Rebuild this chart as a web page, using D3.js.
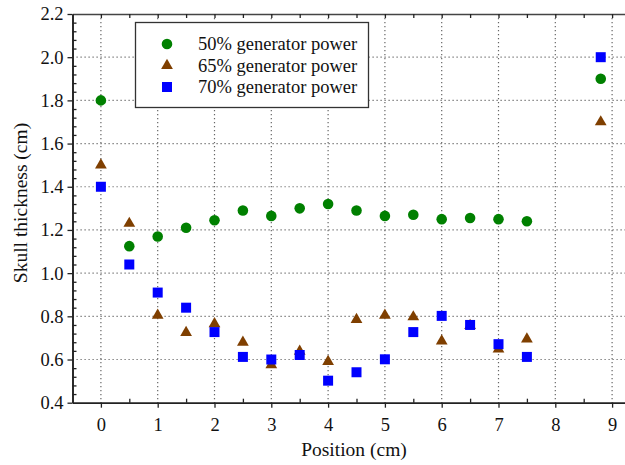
<!DOCTYPE html>
<html>
<head>
<meta charset="utf-8">
<script src="https://cdn.jsdelivr.net/npm/d3@7"></script>
<style>
  body { margin: 0; background: #fff; }
  svg { display: block; }
  svg text { font-family: "Liberation Serif", "DejaVu Serif", serif; }
</style>
</head>
<body>
<svg id="chart" width="625" height="465"></svg>
<script>
// positions along the skull (cm)
var positions = [0, 0.5, 1, 1.5, 2, 2.5, 3, 3.5, 4, 4.5, 5, 5.5, 6, 6.5, 7, 7.5, 8.8];

var power50 = [1.80, 1.125, 1.17, 1.21, 1.245, 1.29, 1.265, 1.30, 1.32, 1.29, 1.265, 1.27, 1.25, 1.255, 1.25, 1.24, 1.90];
var power65 = [1.50, 1.23, 0.805, 0.725, 0.765, 0.68, 0.575, 0.638, 0.59, 0.785, 0.805, 0.797, 0.685, 0.757, 0.648, 0.695, 1.70];
var power70 = [1.40, 1.04, 0.91, 0.84, 0.727, 0.612, 0.60, 0.621, 0.502, 0.541, 0.601, 0.727, 0.802, 0.76, 0.671, 0.612, 2.00];

var seriesNames = ["50% generator power", "65% generator power", "70% generator power"];

var xTicks = [0, 1, 2, 3, 4, 5, 6, 7, 8, 9];
var xMinor = [0.5, 1.5, 2.5, 3.5, 4.5, 5.5, 6.5, 7.5, 8.5];
var yTicks = [0.4, 0.6, 0.8, 1.0, 1.2, 1.4, 1.6, 1.8, 2.0, 2.2];
var yMinor = d3.range(0, 46).map(function(i) { return 0.4 + i * 0.04; })
    .filter(function(v) { return Math.abs(v * 5 - Math.round(v * 5)) > 1e-6; });

var svg = d3.select("#chart");

var plotLeft = 72.5, plotRight = 640.5, plotTop = 14, plotBottom = 402.7;
var x = d3.scaleLinear().domain([-0.5, 9.5]).range([plotLeft, plotRight]);
var y = d3.scaleLinear().domain([0.4, 2.2]).range([plotBottom, plotTop]);

// dotted grid
var grid = svg.append("g").attr("class", "grid");
grid.selectAll("line.gx")
    .data(xTicks)
    .enter().append("line")
    .attr("class", "gx")
    .attr("x1", function(d) { return x(d); })
    .attr("x2", function(d) { return x(d); })
    .attr("y1", plotTop)
    .attr("y2", plotBottom)
    .attr("stroke", "#666")
    .attr("stroke-width", 1.2)
    .attr("stroke-dasharray", "1.2,2.8");
grid.selectAll("line.gy")
    .data(yTicks.slice(1, -1))
    .enter().append("line")
    .attr("class", "gy")
    .attr("x1", plotLeft)
    .attr("x2", plotRight)
    .attr("y1", function(d) { return y(d); })
    .attr("y2", function(d) { return y(d); })
    .attr("stroke", "#666")
    .attr("stroke-width", 1.2)
    .attr("stroke-dasharray", "1.2,2.8");

function styleAxis(g) {
    g.attr("font-family", null);
    g.select(".domain").attr("stroke", "#222").attr("stroke-width", 1.6);
    g.selectAll(".tick line").attr("stroke", "#222").attr("stroke-width", 1.3);
    g.selectAll(".tick text")
        .attr("font-size", "18.5px")
        .attr("fill", "#111");
}

// bottom axis: major out, minor in
var bottomMajor = svg.append("g")
    .attr("transform", "translate(0," + plotBottom + ")")
    .call(d3.axisBottom(x).tickValues(xTicks).tickSize(5).tickSizeOuter(0).tickPadding(10).tickFormat(d3.format("d")));
styleAxis(bottomMajor);
var bottomMinor = svg.append("g")
    .attr("transform", "translate(0," + plotBottom + ")")
    .call(d3.axisBottom(x).tickValues(xMinor).tickSize(-4).tickSizeOuter(0).tickFormat(""));
styleAxis(bottomMinor);

// top axis: ticks inside
var topAxis = svg.append("g")
    .attr("transform", "translate(0," + plotTop + ")")
    .call(d3.axisTop(x).tickValues(xTicks.concat(xMinor)).tickSize(-4).tickSizeOuter(0).tickFormat(""));
styleAxis(topAxis);
topAxis.select(".domain").attr("stroke", "#444");

// left axis: major out, minor in
var leftMajor = svg.append("g")
    .attr("transform", "translate(" + plotLeft + ",0)")
    .call(d3.axisLeft(y).tickValues(yTicks).tickSize(5).tickSizeOuter(0).tickPadding(4).tickFormat(d3.format(".1f")));
styleAxis(leftMajor);
var leftMinor = svg.append("g")
    .attr("transform", "translate(" + plotLeft + ",0)")
    .call(d3.axisLeft(y).tickValues(yMinor).tickSize(-4).tickSizeOuter(0).tickFormat(""));
styleAxis(leftMinor);

// axis titles
svg.append("text")
    .attr("x", 354)
    .attr("y", 456)
    .attr("text-anchor", "middle")
    .attr("font-size", "19.5px")
    .attr("fill", "#111")
    .text("Position (cm)");

svg.append("text")
    .attr("transform", "translate(27,203)rotate(-90)")
    .attr("text-anchor", "middle")
    .attr("font-size", "19.5px")
    .attr("fill", "#111")
    .text("Skull thickness (cm)");

// series
var series = [
    { name: seriesNames[0], values: power50, color: "#008000", symbol: d3.symbolCircle, size: 88 },
    { name: seriesNames[1], values: power65, color: "#7f3f00", symbol: d3.symbolTriangle, size: 60 },
    { name: seriesNames[2], values: power70, color: "#0000ff", symbol: d3.symbolSquare, size: 100 }
];

var marks = svg.append("g").attr("class", "marks");
series.forEach(function(s) {
    var sym = d3.symbol().type(s.symbol).size(s.size);
    marks.append("g")
        .selectAll("path")
        .data(positions.map(function(p, i) { return { x: p, y: s.values[i] }; }))
        .enter().append("path")
        .attr("d", sym)
        .attr("fill", s.color)
        .attr("transform", function(d) { return "translate(" + x(d.x) + "," + y(d.y) + ")"; });
});

// legend
var legend = svg.append("g").attr("class", "legend");
legend.append("rect")
    .attr("x", 135.5)
    .attr("y", 22.5)
    .attr("width", 233)
    .attr("height", 85)
    .attr("fill", "#fff")
    .attr("stroke", "#333")
    .attr("stroke-width", 1.3);

var rows = legend.selectAll("g.row")
    .data(series)
    .enter().append("g")
    .attr("class", "row")
    .attr("transform", function(d, i) { return "translate(0," + (44 + i * 21.5) + ")"; });
rows.append("path")
    .attr("d", function(d) { return d3.symbol().type(d.symbol).size(d.size)(); })
    .attr("fill", function(d) { return d.color; })
    .attr("transform", "translate(167,0)");
rows.append("text")
    .attr("x", 198)
    .attr("y", 6)
    .attr("font-size", "18.5px")
    .attr("fill", "#111")
    .text(function(d) { return d.name; });
</script>
</body>
</html>
